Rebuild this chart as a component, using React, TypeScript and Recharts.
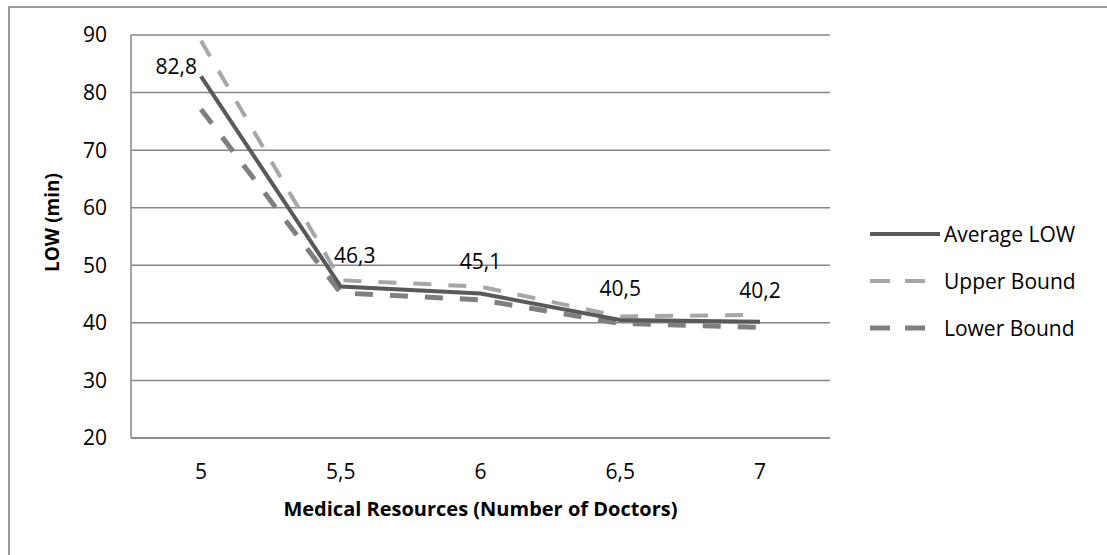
import React from "react";
import {
  LineChart,
  Line,
  XAxis,
  YAxis,
  CartesianGrid,
  LabelList,
} from "recharts";

const doctors = ["5", "5,5", "6", "6,5", "7"];
const averageLow = [82.8, 46.3, 45.1, 40.5, 40.2];
const upperBound = [89, 47.4, 46.3, 41.1, 41.4];
const lowerBound = [77.1, 45.2, 44, 39.9, 39.2];
const yTicks = [20, 30, 40, 50, 60, 70, 80, 90];

const data = doctors.map((d, i) => ({
  doctors: d,
  avg: averageLow[i],
  upper: upperBound[i],
  lower: lowerBound[i],
}));

const FONT = "'Open Sans', sans-serif";
const GRID = "#868686";
const FS = 21;

const SERIES = [
  { key: "avg", name: "Average LOW", color: "#595959", width: 4, dash: undefined },
  { key: "upper", name: "Upper Bound", color: "#A6A6A6", width: 4, dash: "18 17" },
  { key: "lower", name: "Lower Bound", color: "#7F7F7F", width: 5, dash: "18 17" },
];

function fmt(v: number) {
  return v.toFixed(1).replace(".", ",");
}

function AvgLabel(props: any) {
  const { x, y, value, index } = props;
  if (index === 0) {
    return (
      <text x={x - 4} y={y - 2} textAnchor="end" fontSize={FS} fontFamily={FONT} fill="#000">
        {fmt(value)}
      </text>
    );
  }
  const dx = index === 1 ? 14 : 0;
  return (
    <text x={x + dx} y={y - 24} textAnchor="middle" fontSize={FS} fontFamily={FONT} fill="#000">
      {fmt(value)}
    </text>
  );
}

function LegendBox() {
  return (
    <div style={{ fontFamily: FONT, fontSize: FS, color: "#000" }}>
      {SERIES.map((s) => (
        <div key={s.key} style={{ display: "flex", alignItems: "center", height: 47 }}>
          <svg width={76} height={10}>
            <line
              x1={2}
              y1={5}
              x2={72}
              y2={5}
              stroke={s.color}
              strokeWidth={s.width}
              strokeDasharray={s.dash ? "20 15" : undefined}
            />
          </svg>
          <span style={{ whiteSpace: "nowrap" }}>{s.name}</span>
        </div>
      ))}
    </div>
  );
}

export default function App() {
  return (
    <div
      style={{
        position: "fixed",
        left: 0,
        top: 0,
        width: 1107,
        height: 555,
        overflow: "hidden",
        background: "#fff",
      }}
    >
      <div
        style={{
          position: "absolute",
          left: 8,
          top: 6,
          width: 1200,
          height: 700,
          border: "2px solid #999",
        }}
      />
      <div style={{ position: "absolute", left: 0, top: 0 }}>
        <LineChart
          width={1107}
          height={555}
          data={data}
          margin={{ top: 35, right: 277, bottom: 0, left: 0 }}
        >
          <CartesianGrid horizontal vertical={false} stroke={GRID} strokeWidth={1.5} />
          <XAxis
            dataKey="doctors"
            height={117}
            padding={{ left: 70, right: 70 }}
            axisLine={{ stroke: GRID, strokeWidth: 1.5 }}
            tickLine={false}
            tickSize={0}
            tickMargin={26}
            tick={{ fontSize: FS, fontFamily: FONT, fill: "#000" }}
            label={{
              value: "Medical Resources (Number of Doctors)",
              position: "insideTop",
              offset: 64,
              style: { fontSize: 20, fontWeight: 700, fontFamily: FONT, fill: "#000" },
            }}
          />
          <YAxis
            domain={[20, 90]}
            ticks={yTicks}
            width={131}
            axisLine={{ stroke: GRID, strokeWidth: 1.5 }}
            tickLine={false}
            tickSize={0}
            tickMargin={24}
            tick={{ fontSize: FS, fontFamily: FONT, fill: "#000" }}
            label={{
              value: "LOW (min)",
              angle: -90,
              position: "insideLeft",
              offset: 52,
              dy: -14,
              style: { fontSize: 19, fontWeight: 700, fontFamily: FONT, fill: "#000", textAnchor: "middle" },
            }}
          />
          {SERIES.slice(1).map((s) => (
            <Line
              key={s.key}
              type="linear"
              dataKey={s.key}
              name={s.name}
              stroke={s.color}
              strokeWidth={s.width}
              strokeDasharray={s.dash}
              dot={false}
              activeDot={false}
              isAnimationActive={false}
            />
          ))}
          <Line
            type="linear"
            dataKey="avg"
            name="Average LOW"
            stroke="#595959"
            strokeWidth={4}
            dot={false}
            activeDot={false}
            isAnimationActive={false}
          >
            <LabelList dataKey="avg" content={<AvgLabel />} />
          </Line>
        </LineChart>
      </div>
      <div style={{ position: "absolute", left: 868, top: 210 }}>
        <LegendBox />
      </div>
    </div>
  );
}
